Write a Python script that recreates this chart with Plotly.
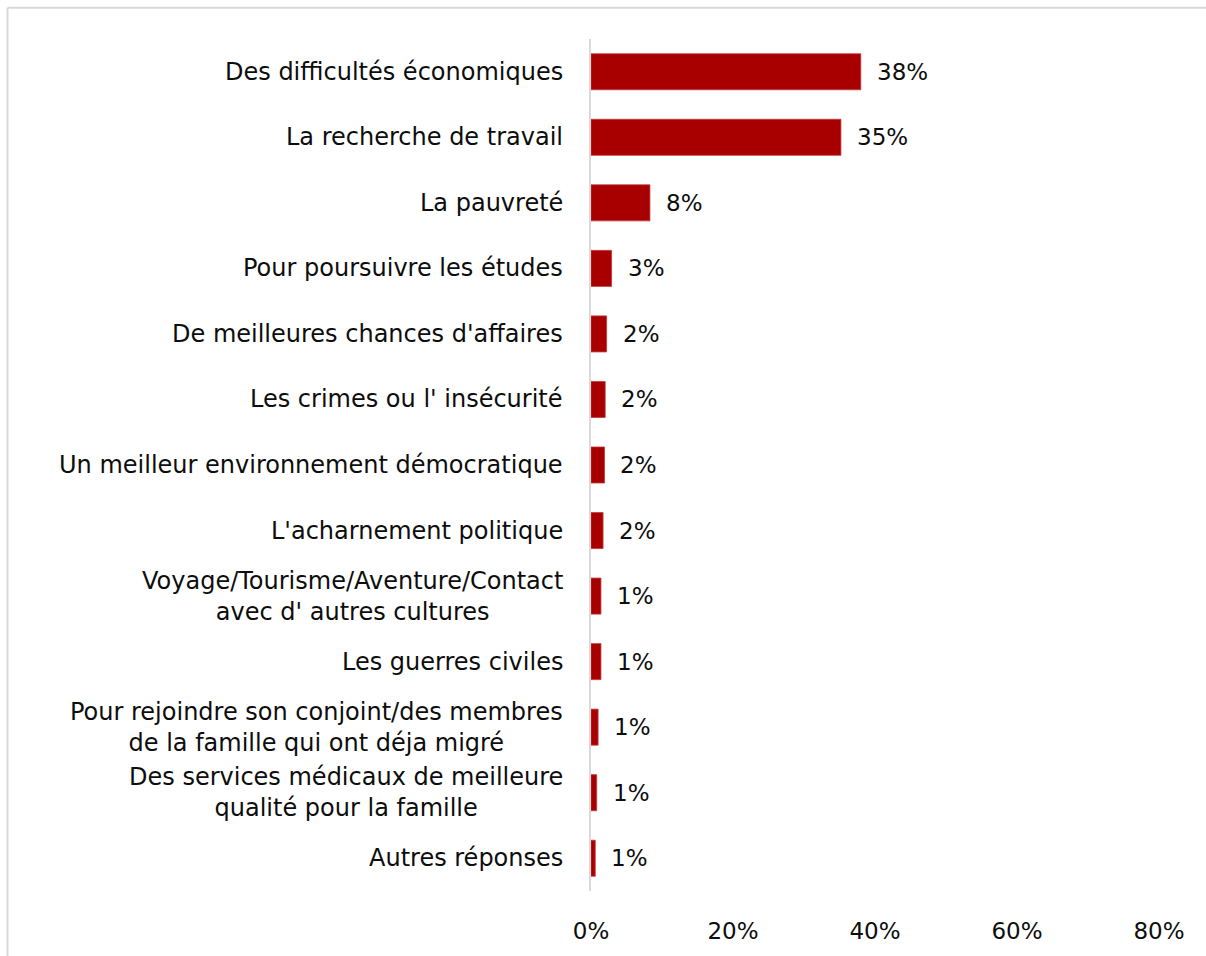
import plotly.graph_objects as go

# Reasons for migrating (share of respondents, %)
categories = [
    "Des difficultés économiques",
    "La recherche de travail",
    "La pauvreté",
    "Pour poursuivre les études",
    "De meilleures chances d'affaires",
    "Les crimes ou l' insécurité",
    "Un meilleur environnement démocratique",
    "L'acharnement politique",
    "Voyage/Tourisme/Aventure/Contact<br>avec d' autres cultures",
    "Les guerres civiles",
    "Pour rejoindre son conjoint/des membres<br>de la famille qui ont déja migré",
    "Des services médicaux de meilleure<br>qualité pour la famille",
    "Autres réponses",
]
values = [38.0, 35.2, 8.3, 2.9, 2.2, 2.0, 1.9, 1.7, 1.4, 1.4, 1.0, 0.8, 0.6]
tick_values = [0, 20, 40, 60, 80]
tick_labels = ["0%", "20%", "40%", "60%", "80%"]

FONT = "DejaVu Sans"
TEXT = "#0D0D0D"
BAR = "#A80000"

W, H = 1206, 956
ML, MR, MT, MB = 591, 47, 39, 61

fig = go.Figure(
    go.Bar(
        x=values,
        y=categories,
        orientation="h",
        marker=dict(color=BAR, line=dict(color="#C23A3A", width=0.8)),
        hoverinfo="skip",
    )
)

for cat, v in zip(categories, values):
    # value label to the right of each bar
    fig.add_annotation(
        x=v, y=cat, xref="x", yref="y",
        text=f"{v:.0f}%", showarrow=False,
        xanchor="left", xshift=14,
        font=dict(family=FONT, size=23, color=TEXT),
    )
    # category label, centred lines, right edge just left of the axis
    fig.add_annotation(
        x=0, y=cat, xref="paper", yref="y",
        text=cat, showarrow=False,
        xanchor="right", align="center", xshift=-26,
        font=dict(family=FONT, size=24, color=TEXT),
    )

# outer frame (light grey), open at the right and bottom edges
pw, ph = W - ML - MR, H - MT - MB
fx0 = (7.5 - ML) / pw
fy1 = 1 + (MT - 7.5) / ph
fig.add_shape(type="line", xref="paper", yref="paper",
              x0=fx0, x1=1.2, y0=fy1, y1=fy1,
              line=dict(color="#D9D9D9", width=2))
fig.add_shape(type="line", xref="paper", yref="paper",
              x0=fx0, x1=fx0, y0=fy1, y1=-0.2,
              line=dict(color="#D9D9D9", width=2))

fig.update_layout(
    width=W, height=H,
    margin=dict(l=ML, r=MR, t=MT, b=MB),
    paper_bgcolor="white", plot_bgcolor="white",
    bargap=0.45,
    showlegend=False,
    font=dict(family=FONT, size=23, color=TEXT),
    xaxis=dict(
        range=[0, 80], tickvals=tick_values, ticktext=tick_labels,
        showgrid=False, zeroline=False, showline=False,
        ticks="", ticklabelstandoff=24,
        tickfont=dict(family=FONT, size=23, color=TEXT),
    ),
    yaxis=dict(
        autorange="reversed", showgrid=False, zeroline=False,
        showline=True, linecolor="#D9D9D9", linewidth=1.5,
        ticks="", showticklabels=False,
    ),
)

fig.write_html("out.html")
